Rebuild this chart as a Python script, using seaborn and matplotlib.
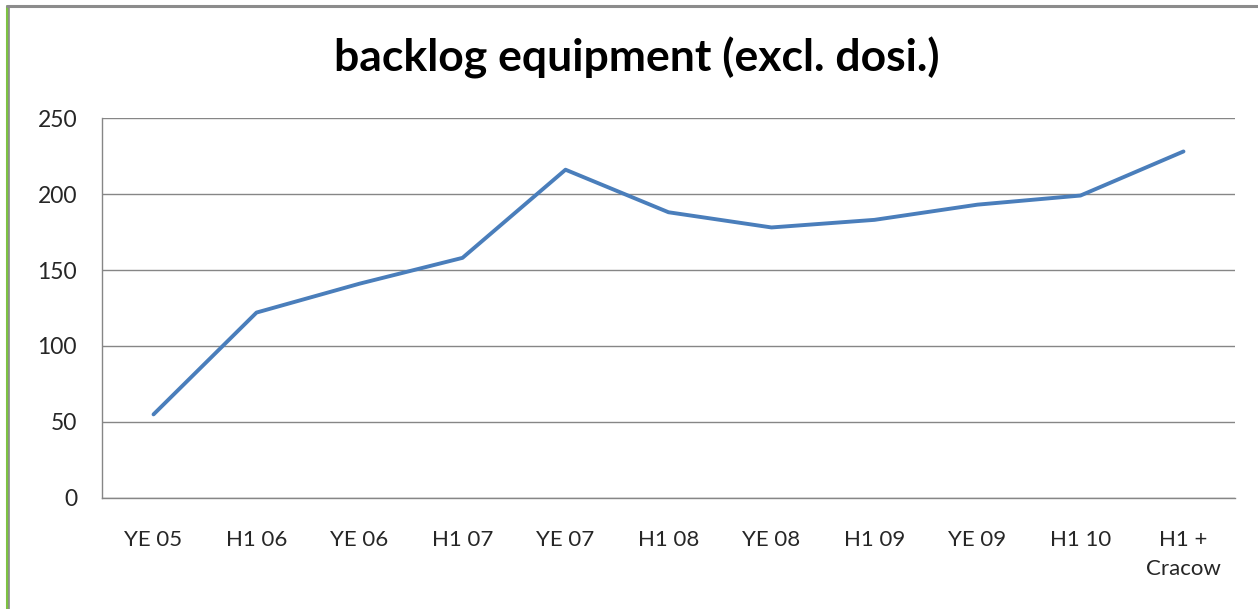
import matplotlib
matplotlib.use("Agg")
import matplotlib.pyplot as plt
import pandas as pd
import seaborn as sns
from matplotlib.lines import Line2D
from matplotlib.ticker import FixedLocator

periods = ["YE 05", "H1 06", "YE 06", "H1 07", "YE 07", "H1 08",
           "YE 08", "H1 09", "YE 09", "H1 10", "H1 +\nCracow"]
backlog = [55, 122, 141, 158, 216, 188, 178, 183, 193, 199, 228]
y_ticks = [0, 50, 100, 150, 200, 250]

df = pd.DataFrame({"period": periods, "backlog": backlog})

sns.set_style("white")
plt.rcParams["font.family"] = ["Lato", "DejaVu Sans"]

fig = plt.figure(figsize=(12.58, 6.09), dpi=100)
ax = fig.add_axes([0.0811, 0.1823, 0.9006, 0.6239])

sns.lineplot(data=df, x="period", y="backlog", ax=ax, color="#4A7EBB",
             linewidth=2.8, sort=False)

grid_c = "#868686"
ax.set_ylim(0, 250)
ax.set_xlim(-0.5, len(periods) - 0.5)
ax.set_yticks(y_ticks)
ax.yaxis.grid(True, color=grid_c, linewidth=1)
ax.set_axisbelow(True)
for s in ["top", "right"]:
    ax.spines[s].set_visible(False)
for s in ["left", "bottom"]:
    ax.spines[s].set_color(grid_c)
    ax.spines[s].set_linewidth(1)

ax.set_xticks(range(len(periods)))
ax.set_xticklabels(periods, fontsize=16, color="#262626", linespacing=1.55)
ax.xaxis.set_minor_locator(FixedLocator([i - 0.5 for i in range(len(periods) + 1)]))
ax.tick_params(axis="x", which="major", length=0, pad=23)
ax.tick_params(axis="x", which="minor", length=7, color=grid_c, width=1, direction="out")
ax.tick_params(axis="y", length=7, color=grid_c, width=1, direction="out",
               labelsize=16.5, labelcolor="#262626", pad=11)
plt.setp(ax.get_xticklabels(), va="top")
ax.set_xlabel("")
ax.set_ylabel("")

fig.text(0.506, 0.905, "backlog equipment (excl. dosi.)", ha="center", va="center",
         fontsize=32, fontweight="bold", color="black")

# outer frame bits
fig.add_artist(Line2D([0.0052, 0.0052], [0, 0.99], color="#7DC242", linewidth=2.2))
fig.add_artist(Line2D([0.0071, 0.0071], [0, 0.99], color="#8C8C8C", linewidth=1.2))
fig.add_artist(Line2D([0.0052, 1.0], [0.99, 0.99], color="#8C8C8C", linewidth=2.2))

fig.savefig("out.png", dpi=100)
